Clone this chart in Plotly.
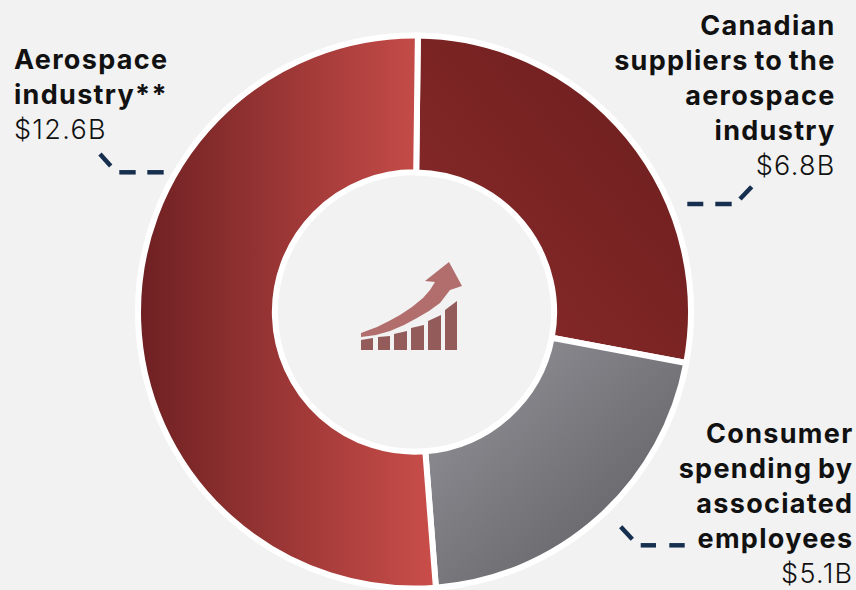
import plotly.graph_objects as go

W, H = 856, 590

# Contribution to GDP by segment, in billions of dollars
segments = ["Canadian suppliers to the aerospace industry",
            "Consumer spending by associated employees",
            "Aerospace industry**"]
values_b = [6.8, 5.1, 12.6]
label_lines = [["Canadian", "suppliers to the", "aerospace", "industry"],
               ["Consumer", "spending by", "associated", "employees"],
               ["Aerospace", "industry**"]]
value_labels = ["$6.8B", "$5.1B", "$12.6B"]

BG = "#f2f2f2"
NAVY = "#172f4f"
TEXT = "#111111"
FONT = "Inter"


def px_domain(lo, hi, size):
    return [lo / size, hi / size]


fig = go.Figure(go.Pie(
    labels=segments,
    values=values_b,
    sort=False,
    direction="clockwise",
    rotation=0.7,
    hole=0.505,
    textinfo="none",
    hoverinfo="label+value",
    showlegend=False,
    marker=dict(colors=["#7c2424", "#77777d", "#9c3535"], line=dict(color="#ffffff", width=6)),
    domain=dict(x=px_domain(138, 691, W), y=px_domain(H - 588.5, H - 35.5, H)),
))

# Leader lines: one tick and two dashes per label, in page pixels
leaders = [
    [(740, 199, 751.7, 186.7), (687.3, 204, 703.3, 204), (715.3, 204, 731.7, 204)],
    [(620.7, 526.7, 632.3, 539.3), (640.7, 545.3, 656, 545.3), (669.3, 545.3, 684.7, 545.3)],
    [(100, 154, 110.7, 166), (119.3, 172.3, 135.7, 172.3), (147.3, 172.3, 163.7, 172.3)],
]
shapes = []
for group in leaders:
    for x0, y0, x1, y1 in group:
        shapes.append(dict(type="line", xref="x", yref="y", x0=x0, y0=y0, x1=x1, y1=y1,
                           line=dict(color=NAVY, width=4.5)))

# Growth icon in the middle of the ring: rising bars with a curved arrow above
bar_tops = [(361, 373, 340, 338), (378, 390, 337, 336), (394, 407, 334, 331),
            (411, 424, 328, 325), (428, 441, 321, 315), (445, 457, 310, 301)]
for x0, x1, y_left, y_right in bar_tops:
    shapes.append(dict(type="path", xref="x", yref="y",
                       path=f"M{x0},350 L{x0},{y_left} L{x1},{y_right} L{x1},350 Z",
                       fillcolor="#945b5b", line=dict(width=0)))
shapes.append(dict(
    type="path", xref="x", yref="y",
    path=("M361,333 L361,337 L376,335 L390,331 L404,325 L417,318 L429,311 L440,303 L450,290 "
          "L462,286 L449,262 L425,281 L435,282 L430,290 L423,298 L412,307 L400,315 L389,321 "
          "L377,327 Z"),
    fillcolor="#b26d6d", line=dict(width=0)))


def block(lines, value):
    light = f'<span style="font-weight:300">{value}</span>'
    return "<br>".join(f"<b>{ln}</b>" for ln in lines) + "<br>" + light


annotations = [
    dict(text=block(label_lines[0], value_labels[0]), x=838, y=7, xanchor="right", align="right"),
    dict(text=block(label_lines[1], value_labels[1]), x=855, y=415, xanchor="right", align="right"),
    dict(text=block(label_lines[2], value_labels[2]), x=12, y=41, xanchor="left", align="left"),
]
for a in annotations:
    a.update(xref="x", yref="y", yanchor="top", showarrow=False,
             font=dict(family=FONT, size=27, color=TEXT))

fig.update_layout(
    width=W, height=H, autosize=False,
    margin=dict(l=0, r=0, t=0, b=0),
    paper_bgcolor=BG, plot_bgcolor="rgba(0,0,0,0)",
    xaxis=dict(range=[0, W], visible=False, fixedrange=True),
    yaxis=dict(range=[H, 0], visible=False, fixedrange=True),
    shapes=shapes,
    annotations=annotations,
)

# Gradient fills on the three slices and adjusted tracking on the labels
finish_js = """
var gd = document.querySelector('.plotly-graph-div');
var svg = gd.querySelector('.main-svg');
var ns = 'http://www.w3.org/2000/svg';
var defs = document.createElementNS(ns, 'defs');
var specs = [
  ['sliceGrad0', 0, 1, 1, 0, '#8b2b2b', '#6b1d1d'],
  ['sliceGrad1', 0, 0, 1, 1, '#96969c', '#59595e'],
  ['sliceGrad2', 0, 0, 1, 0, '#6e2022', '#ca4e4a']
];
specs.forEach(function (s) {
  var g = document.createElementNS(ns, 'linearGradient');
  g.setAttribute('id', s[0]);
  g.setAttribute('x1', s[1]); g.setAttribute('y1', s[2]);
  g.setAttribute('x2', s[3]); g.setAttribute('y2', s[4]);
  [[0, s[5]], [1, s[6]]].forEach(function (st) {
    var stop = document.createElementNS(ns, 'stop');
    stop.setAttribute('offset', st[0]);
    stop.setAttribute('stop-color', st[1]);
    g.appendChild(stop);
  });
  defs.appendChild(g);
});
svg.insertBefore(defs, svg.firstChild);
gd.querySelectorAll('.slice path.surface').forEach(function (p, i) {
  p.style.fill = 'url(#sliceGrad' + i + ')';
});
gd.querySelectorAll('.annotation-text').forEach(function (t) {
  t.style.letterSpacing = '1.3px';
  t.style.wordSpacing = '-2px';
});
"""

fig.write_html("out.html", post_script=finish_js,
               config=dict(displayModeBar=False, responsive=False))
